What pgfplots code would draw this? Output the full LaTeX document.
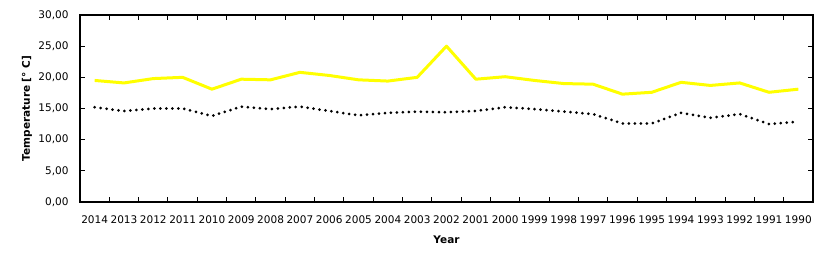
\documentclass[border=0pt]{standalone}
\usepackage{pgfplots}
\pgfplotsset{compat=1.18}
\usepackage{fontspec}
\setmainfont{DejaVu Sans}

\definecolor{hotCol}{HTML}{FFFF00}

\begin{document}
\begin{tikzpicture}
\useasboundingbox (-80pt,-51pt) rectangle (749pt,202pt);
\begin{axis}[
    scale only axis, width=733pt, height=187pt,
    font=\fontsize{10.5}{12}\selectfont,
    xmin=-0.5, xmax=24.5, ymin=0, ymax=30,
    axis line style={line width=1.2pt},
    tick align=inside, tick pos=both,
    xtick={0,...,24},
    xticklabels={2014,2013,2012,2011,2010,2009,2008,2007,2006,2005,2004,2003,2002,2001,2000,1999,1998,1997,1996,1995,1994,1993,1992,1991,1990},
    major x tick style={draw=none},
    minor xtick={0.5,1.5,...,23.5},
    minor tick length=5pt,
    minor tick style={line width=1pt, black},
    ytick={0,5,...,30},
    major tick length=5pt,
    major y tick style={line width=1pt, black},
    xticklabel style={yshift=-10pt},
    yticklabel style={xshift=-8pt},
    /pgf/number format/.cd, fixed, fixed zerofill, precision=2, use comma, assume math mode=true,
    /pgfplots/.cd,
    xlabel={\bfseries Year},
    ylabel={\bfseries Temperature [° C]},
    xlabel style={at={(axis description cs:0.5,-0.203)}, anchor=center},
    ylabel style={at={(axis description cs:-0.0723,0.5)}, anchor=center},
]
\addplot[hotCol, line width=3pt, line join=round] coordinates {
(0,19.5)(1,19.1)(2,19.8)(3,20.0)(4,18.1)(5,19.7)(6,19.6)(7,20.8)(8,20.3)(9,19.6)
(10,19.4)(11,20.0)(12,25.0)(13,19.7)(14,20.1)(15,19.5)(16,19.0)(17,18.9)(18,17.3)(19,17.6)
(20,19.2)(21,18.7)(22,19.1)(23,17.6)(24,18.1)};
\addplot[black, line width=3pt, line cap=round, dash pattern=on 0pt off 6pt] coordinates {
(0,15.2)(1,14.6)(2,15.0)(3,15.0)(4,13.8)(5,15.3)(6,14.9)(7,15.3)(8,14.6)(9,13.9)
(10,14.3)(11,14.5)(12,14.4)(13,14.6)(14,15.2)(15,14.9)(16,14.5)(17,14.1)(18,12.6)(19,12.6)
(20,14.3)(21,13.5)(22,14.1)(23,12.5)(24,12.9)};
\end{axis}
\end{tikzpicture}
\end{document}
